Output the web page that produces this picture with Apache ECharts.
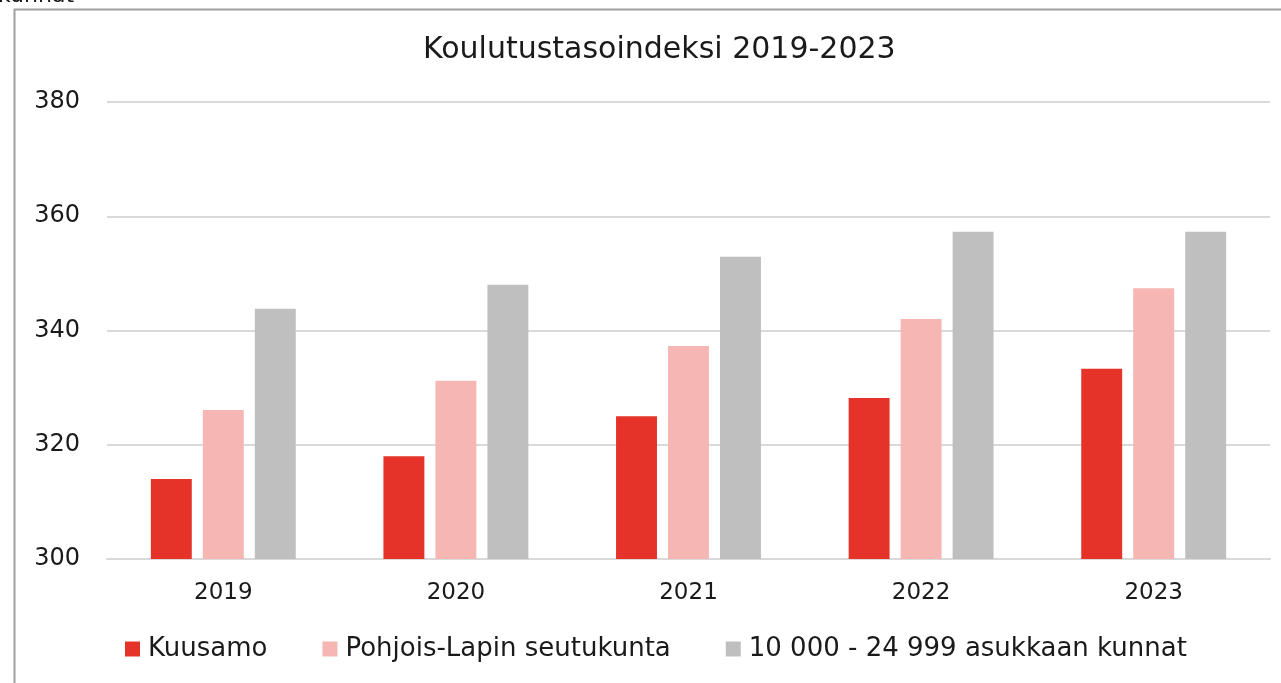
<!DOCTYPE html>
<html><head><meta charset="utf-8">
<script src="https://cdn.jsdelivr.net/npm/echarts@6/dist/echarts.min.js"></script>
<style>html,body{margin:0;padding:0;background:#fff;}#c{width:1281px;height:683px;}</style>
</head><body><div id="c"></div>
<script>
const years = ['2019','2020','2021','2022','2023'];
const kuusamo = [314.0, 318.0, 325.0, 328.2, 333.3];
const pohjoisLappi = [326.1, 331.2, 337.3, 342.0, 347.4];
const kunnat = [343.8, 348.0, 352.9, 357.3, 357.3];
const seriesNames = ['Kuusamo', 'Pohjois-Lapin seutukunta', '10 000 - 24 999 asukkaan kunnat'];
const colors = ['#e5332a', '#f5b6b4', '#bfbfbf'];
const FONT = 'DejaVu Sans';

const chart = echarts.init(document.getElementById('c'), null, {renderer:'canvas'});
chart.setOption({
  animation: false,
  textStyle: {fontFamily: FONT, color: '#1a1a1a'},
  title: {
    text: 'Koulutustasoindeksi 2019-2023',
    left: 418, top: 30,
    textStyle: {fontFamily: FONT, fontSize: 30, fontWeight: 'normal', color: '#1a1a1a'}
  },
  graphic: [
    {type: 'rect', shape: {x: 14.5, y: 9.5, width: 1400, height: 800}, style: {fill: 'none', stroke: '#a0a0a0', lineWidth: 2}, silent: true},
    {type: 'text', left: -2, top: -15, style: {text: 'kunnat', fontFamily: FONT, fontSize: 22, fill: '#1a1a1a'}, silent: true}
  ],
  legend: {
    bottom: 16, left: 120,
    itemWidth: 15, itemHeight: 15, itemGap: 55,
    icon: 'rect',
    textStyle: {fontFamily: FONT, fontSize: 26, color: '#1a1a1a', padding: [0,0,0,3]},
    data: seriesNames
  },
  grid: {left: 107, right: 11, top: 102, bottom: 124, containLabel: false},
  xAxis: {
    type: 'category', data: years,
    axisLine: {show: true, lineStyle: {color: '#d9d9d9', width: 2}},
    axisTick: {show: false},
    axisLabel: {fontFamily: FONT, fontSize: 23, color: '#1a1a1a', margin: 23}
  },
  yAxis: {
    type: 'value', min: 300, max: 380, interval: 20,
    axisLine: {show: false}, axisTick: {show: false},
    splitLine: {lineStyle: {color: '#d9d9d9', width: 2}},
    axisLabel: {fontFamily: FONT, fontSize: 24, color: '#1a1a1a', margin: 27}
  },
  series: [
    {name: seriesNames[0], type: 'bar', data: kuusamo, itemStyle: {color: colors[0]}, barGap: '27%', barCategoryGap: '37.7%'},
    {name: seriesNames[1], type: 'bar', data: pohjoisLappi, itemStyle: {color: colors[1]}, barGap: '27%', barCategoryGap: '37.7%'},
    {name: seriesNames[2], type: 'bar', data: kunnat, itemStyle: {color: colors[2]}, barGap: '27%', barCategoryGap: '37.7%'}
  ]
});
</script></body></html>
